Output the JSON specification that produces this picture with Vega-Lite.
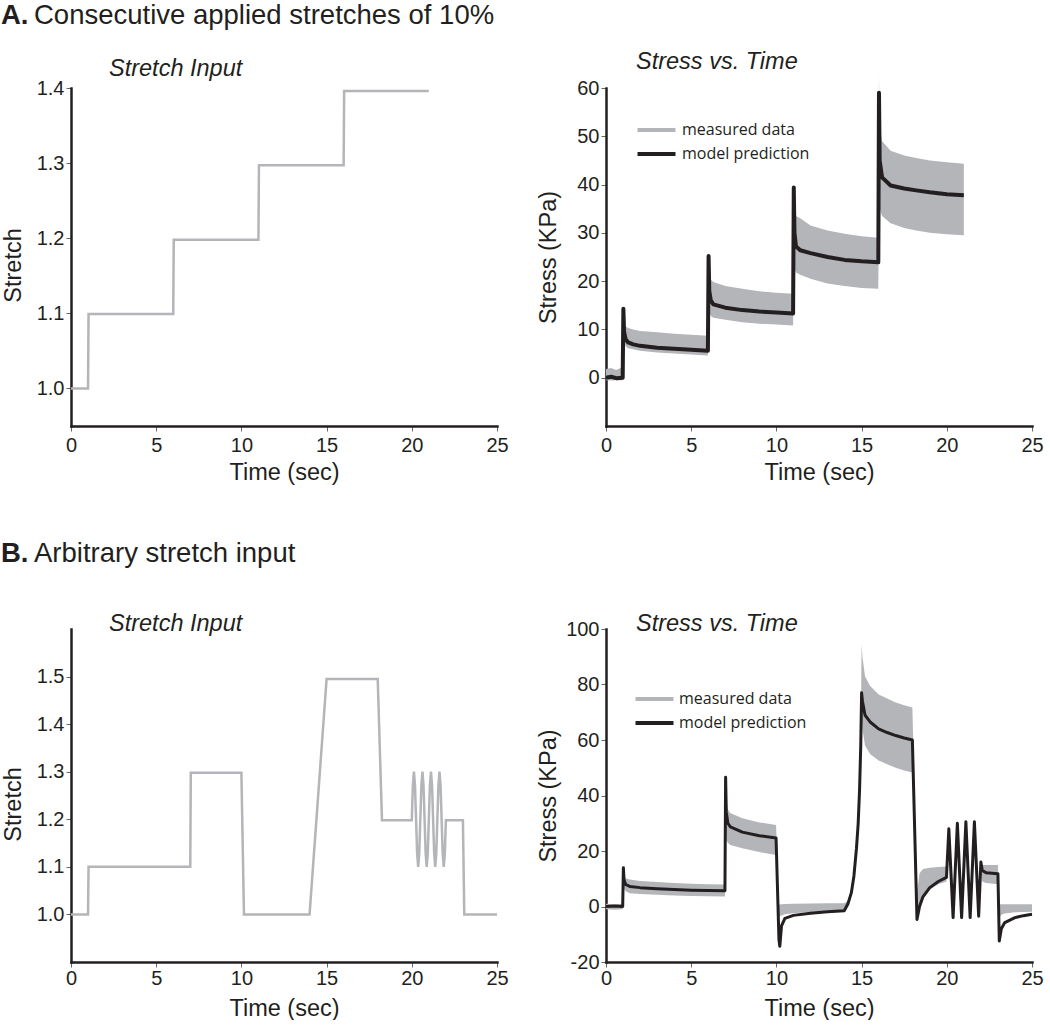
{
  "$schema": "https://vega.github.io/schema/vega-lite/v6.json",
  "background": "white",
  "padding": {"left": 1, "top": 1, "right": 0, "bottom": 0},
  "datasets": {
    "aStretch": [
      {"t": 0, "s": 1.0}, {"t": 1.0, "s": 1.0}, {"t": 1.03, "s": 1.099}, {"t": 6.0, "s": 1.099},
      {"t": 6.03, "s": 1.198}, {"t": 11.0, "s": 1.198}, {"t": 11.03, "s": 1.297}, {"t": 16.0, "s": 1.297},
      {"t": 16.03, "s": 1.396}, {"t": 21.0, "s": 1.396}
    ],
    "aStress": [
      {"t": 0.0, "lo": -0.5, "hi": 1.8, "m": 0},
      {"t": 0.3, "lo": -0.6, "hi": 2.0, "m": 0.2},
      {"t": 0.6, "lo": -0.5, "hi": 1.6, "m": -0.1},
      {"t": 0.98, "lo": -0.5, "hi": 2.2, "m": 0},
      {"t": 1.02, "lo": 9, "hi": 14.3, "m": 14.3},
      {"t": 1.06, "lo": 7.5, "hi": 11.5, "m": 9.5},
      {"t": 1.15, "lo": 6.5, "hi": 10.6, "m": 8.0},
      {"t": 1.3, "lo": 6.1, "hi": 10.3, "m": 7.3},
      {"t": 1.6, "lo": 5.9, "hi": 10.0, "m": 6.9},
      {"t": 2.0, "lo": 5.6, "hi": 9.7, "m": 6.6},
      {"t": 3.0, "lo": 5.2, "hi": 9.4, "m": 6.2},
      {"t": 4.0, "lo": 5.0, "hi": 9.1, "m": 6.0},
      {"t": 5.0, "lo": 4.8, "hi": 8.9, "m": 5.8},
      {"t": 5.98, "lo": 4.6, "hi": 8.7, "m": 5.6},
      {"t": 6.02, "lo": 15, "hi": 25.2, "m": 25.2},
      {"t": 6.06, "lo": 13.5, "hi": 21, "m": 18},
      {"t": 6.15, "lo": 12.8, "hi": 20.3, "m": 16},
      {"t": 6.3, "lo": 12.4, "hi": 19.8, "m": 15.2},
      {"t": 7.0, "lo": 12.0, "hi": 19.0, "m": 14.5},
      {"t": 8.0, "lo": 11.5, "hi": 18.4, "m": 14.0},
      {"t": 9.0, "lo": 11.2, "hi": 17.9, "m": 13.7},
      {"t": 10.0, "lo": 11.0, "hi": 17.6, "m": 13.5},
      {"t": 10.98, "lo": 10.8, "hi": 17.4, "m": 13.3},
      {"t": 11.02, "lo": 24, "hi": 40.5, "m": 39.4},
      {"t": 11.06, "lo": 22.5, "hi": 35, "m": 30},
      {"t": 11.15, "lo": 21.8, "hi": 33.5, "m": 27.2},
      {"t": 11.4, "lo": 21.3, "hi": 33, "m": 26.4},
      {"t": 12.0, "lo": 20.5, "hi": 31.5, "m": 25.8},
      {"t": 13.0, "lo": 19.5, "hi": 30.5, "m": 25.0},
      {"t": 14.0, "lo": 19.0, "hi": 29.8, "m": 24.4},
      {"t": 15.0, "lo": 18.6, "hi": 29.3, "m": 24.1},
      {"t": 15.98, "lo": 18.4, "hi": 29.0, "m": 23.9},
      {"t": 16.02, "lo": 37, "hi": 62.7, "m": 59},
      {"t": 16.06, "lo": 35, "hi": 52, "m": 45},
      {"t": 16.2, "lo": 33.5, "hi": 49, "m": 41.5},
      {"t": 16.7, "lo": 32, "hi": 47, "m": 39.8},
      {"t": 17.5, "lo": 31, "hi": 46, "m": 39.2},
      {"t": 18.2, "lo": 30.5, "hi": 45.5, "m": 38.8},
      {"t": 19.0, "lo": 30.0, "hi": 45, "m": 38.4},
      {"t": 20.0, "lo": 29.7, "hi": 44.6, "m": 38.0},
      {"t": 21.0, "lo": 29.5, "hi": 44.3, "m": 37.8}
    ],
    "bStretch": [
      {"t": 0, "s": 1.0}, {"t": 1.0, "s": 1.0}, {"t": 1.03, "s": 1.1}, {"t": 7.0, "s": 1.1},
      {"t": 7.03, "s": 1.298}, {"t": 10.0, "s": 1.298}, {"t": 10.15, "s": 1.0}, {"t": 14.0, "s": 1.0},
      {"t": 15.0, "s": 1.495}, {"t": 18.0, "s": 1.495}, {"t": 18.25, "s": 1.198}, {"t": 20.0, "s": 1.198},
      {"t": 20.0625, "s": 1.271}, {"t": 20.125, "s": 1.3}, {"t": 20.1875, "s": 1.271}, {"t": 20.25, "s": 1.2},
      {"t": 20.3125, "s": 1.129}, {"t": 20.375, "s": 1.1}, {"t": 20.4375, "s": 1.129}, {"t": 20.5, "s": 1.2},
      {"t": 20.5625, "s": 1.271}, {"t": 20.625, "s": 1.3}, {"t": 20.6875, "s": 1.271}, {"t": 20.75, "s": 1.2},
      {"t": 20.8125, "s": 1.129}, {"t": 20.875, "s": 1.1}, {"t": 20.9375, "s": 1.129}, {"t": 21.0, "s": 1.2},
      {"t": 21.0625, "s": 1.271}, {"t": 21.125, "s": 1.3}, {"t": 21.1875, "s": 1.271}, {"t": 21.25, "s": 1.2},
      {"t": 21.3125, "s": 1.129}, {"t": 21.375, "s": 1.1}, {"t": 21.4375, "s": 1.129}, {"t": 21.5, "s": 1.2},
      {"t": 21.5625, "s": 1.271}, {"t": 21.625, "s": 1.3}, {"t": 21.6875, "s": 1.271}, {"t": 21.75, "s": 1.2},
      {"t": 21.8125, "s": 1.129}, {"t": 21.875, "s": 1.1}, {"t": 21.9375, "s": 1.129}, {"t": 22.0, "s": 1.198},
      {"t": 23.0, "s": 1.198}, {"t": 23.08, "s": 1.0}, {"t": 25.0, "s": 1.0}
    ],
    "bStress": [
      {"t": 0.0, "lo": -1.0, "hi": 1.0, "m": 0},
      {"t": 0.5, "lo": -1.2, "hi": 0.8, "m": 0.2},
      {"t": 0.98, "lo": -1.0, "hi": 1.0, "m": 0},
      {"t": 1.02, "lo": 8, "hi": 14, "m": 14},
      {"t": 1.06, "lo": 6.5, "hi": 11, "m": 9.5},
      {"t": 1.15, "lo": 5.5, "hi": 10.2, "m": 8.0},
      {"t": 1.4, "lo": 4.8, "hi": 9.7, "m": 7.2},
      {"t": 2.0, "lo": 4.5, "hi": 9.2, "m": 6.8},
      {"t": 3.0, "lo": 4.2, "hi": 8.8, "m": 6.4},
      {"t": 4.0, "lo": 4.0, "hi": 8.5, "m": 6.1},
      {"t": 5.0, "lo": 3.8, "hi": 8.2, "m": 5.9},
      {"t": 6.0, "lo": 3.7, "hi": 8.0, "m": 5.8},
      {"t": 6.98, "lo": 3.6, "hi": 7.9, "m": 5.7},
      {"t": 7.02, "lo": 25, "hi": 46.6, "m": 46.6},
      {"t": 7.06, "lo": 24, "hi": 38, "m": 34},
      {"t": 7.15, "lo": 23, "hi": 35, "m": 30},
      {"t": 7.3, "lo": 22.2, "hi": 33.7, "m": 28.7},
      {"t": 8.0, "lo": 21, "hi": 31.8, "m": 26.8},
      {"t": 9.0, "lo": 19.6, "hi": 30.3, "m": 25.5},
      {"t": 9.98, "lo": 18.6, "hi": 29.4, "m": 24.7},
      {"t": 10.15, "lo": -3.5, "hi": 0.7, "m": -12},
      {"t": 10.2, "lo": -3.5, "hi": 0.7, "m": -14.3},
      {"t": 10.3, "lo": -3.2, "hi": 0.8, "m": -7},
      {"t": 10.5, "lo": -2.8, "hi": 0.9, "m": -4.3},
      {"t": 11.0, "lo": -2.4, "hi": 1.0, "m": -3.2},
      {"t": 12.0, "lo": -2.0, "hi": 1.1, "m": -2.4},
      {"t": 13.0, "lo": -1.8, "hi": 1.2, "m": -1.9},
      {"t": 13.98, "lo": -1.7, "hi": 1.2, "m": -1.5},
      {"t": 14.2, "lo": 0, "hi": 2, "m": 1},
      {"t": 14.4, "lo": 4, "hi": 6, "m": 5},
      {"t": 14.55, "lo": 10, "hi": 12, "m": 11},
      {"t": 14.7, "lo": 20, "hi": 22, "m": 21},
      {"t": 14.8, "lo": 29, "hi": 31, "m": 30},
      {"t": 14.88, "lo": 41, "hi": 43, "m": 42},
      {"t": 14.95, "lo": 57, "hi": 60, "m": 58},
      {"t": 15.0, "lo": 70, "hi": 94.6, "m": 77},
      {"t": 15.05, "lo": 64, "hi": 90, "m": 74},
      {"t": 15.2, "lo": 58, "hi": 83, "m": 69},
      {"t": 15.5, "lo": 55, "hi": 79.5, "m": 66.5},
      {"t": 16.0, "lo": 52.6, "hi": 76.4, "m": 64},
      {"t": 16.5, "lo": 51.3, "hi": 75, "m": 62.7},
      {"t": 17.0, "lo": 50, "hi": 73.5, "m": 61.6},
      {"t": 17.5, "lo": 49, "hi": 72.5, "m": 60.7},
      {"t": 17.98, "lo": 48.3, "hi": 71.7, "m": 60},
      {"t": 18.25, "lo": -4.7, "hi": 5, "m": -4.7},
      {"t": 18.4, "lo": 0, "hi": 12, "m": 0},
      {"t": 18.6, "lo": 3, "hi": 13.5, "m": 3.5},
      {"t": 19.0, "lo": 6, "hi": 14, "m": 6.8},
      {"t": 19.5, "lo": 8, "hi": 14.2, "m": 9.0},
      {"t": 19.98, "lo": 9, "hi": 14.4, "m": 10.5},
      {"t": 20.12, "lo": 28, "hi": 28, "m": 28},
      {"t": 20.37, "lo": -4, "hi": -4, "m": -4},
      {"t": 20.62, "lo": 30, "hi": 30, "m": 30},
      {"t": 20.87, "lo": -4, "hi": -4, "m": -4},
      {"t": 21.12, "lo": 30.5, "hi": 30.5, "m": 30.5},
      {"t": 21.37, "lo": -4, "hi": -4, "m": -4},
      {"t": 21.62, "lo": 30.5, "hi": 30.5, "m": 30.5},
      {"t": 21.87, "lo": -3.5, "hi": -3.5, "m": -3.5},
      {"t": 22.0, "lo": 13, "hi": 16, "m": 16},
      {"t": 22.08, "lo": 9, "hi": 15, "m": 13},
      {"t": 22.3, "lo": 8.5, "hi": 15, "m": 12.2},
      {"t": 23.0, "lo": 8, "hi": 15, "m": 11.8},
      {"t": 23.08, "lo": -4, "hi": 0.8, "m": -12.4},
      {"t": 23.2, "lo": -3, "hi": 0.8, "m": -8},
      {"t": 23.4, "lo": -2.5, "hi": 0.8, "m": -5.8},
      {"t": 24.0, "lo": -2.1, "hi": 0.8, "m": -4.0},
      {"t": 24.5, "lo": -2.0, "hi": 0.8, "m": -3.3},
      {"t": 25.0, "lo": -1.9, "hi": 0.8, "m": -2.8}
    ]
  },
  "spacing": 55,
  "resolve": {"scale": {"color": "independent"}},
  "vconcat": [
    {
      "title": {"text": "A.", "fontWeight": "bold", "fontSize": 27.5, "anchor": "start", "offset": -27.5},
      "resolve": {"scale": {"color": "independent"}},
      "vconcat": [
        {
          "title": {"text": "Consecutive applied stretches of 10%", "fontSize": 27.5, "anchor": "start", "dx": 33, "offset": 21},
          "spacing": 27,
          "resolve": {"scale": {"color": "independent"}},
          "hconcat": [
            {
              "width": 426, "height": 338,
              "title": {"text": "Stretch Input", "fontStyle": "italic", "fontSize": 23.5, "anchor": "start", "dx": 38, "frame": "group", "offset": -2},
              "data": {"name": "aStretch"},
              "mark": {"type": "line", "color": "#b4b5b8", "strokeWidth": 2.5},
              "encoding": {
                "x": {"field": "t", "type": "quantitative", "title": "Time (sec)", "scale": {"domain": [0, 25], "nice": false}, "axis": {"values": [0, 5, 10, 15, 20, 25]}},
                "y": {"field": "s", "type": "quantitative", "title": "Stretch", "scale": {"domain": [0.95, 1.4], "nice": false, "zero": false}, "axis": {"values": [1.0, 1.1, 1.2, 1.3, 1.4], "format": ".1f", "titleY": 177}}
              }
            },
            {
              "width": 426, "height": 338,
              "title": {"text": "Stress vs. Time", "fontStyle": "italic", "fontSize": 23.5, "anchor": "start", "dx": 30, "frame": "group", "offset": 1},
              "data": {"name": "aStress"},
              "layer": [
                {
                  "mark": {"type": "area", "opacity": 1},
                  "encoding": {
                    "x": {"field": "t", "type": "quantitative", "title": "Time (sec)", "scale": {"domain": [0, 25], "nice": false}, "axis": {"values": [0, 5, 10, 15, 20, 25]}},
                    "y": {"field": "lo", "type": "quantitative", "title": "Stress (KPa)", "scale": {"domain": [-10, 60], "nice": false, "zero": false}, "axis": {"values": [0, 10, 20, 30, 40, 50, 60], "labelExpr": "'' + datum.value"}},
                    "y2": {"field": "hi"},
                    "color": {
                      "datum": "measured data", "type": "nominal",
                      "scale": {"domain": ["measured data", "model prediction"], "range": ["#b4b5b8", "#231f20"]},
                      "legend": {
                        "orient": "none", "legendX": 39, "legendY": 30.5, "title": null,
                        "symbolType": "M-2,0H2", "symbolSize": 361, "symbolStrokeWidth": 4,
                        "labelFont": "Open Sans", "labelFontSize": 16, "labelColor": "#231f20", "labelOffset": 14,
                        "rowPadding": 4, "padding": 0,
                        "encode": {"symbols": {"update": {"stroke": [{"test": "datum.value === 'measured data'", "value": "#b4b5b8"}, {"value": "#231f20"}], "fill": {"value": "transparent"}, "strokeWidth": {"value": 4}}}}
                      }
                    }
                  }
                },
                {
                  "mark": {"type": "line", "strokeWidth": 4, "strokeJoin": "round"},
                  "encoding": {
                    "x": {"field": "t", "type": "quantitative"},
                    "y": {"field": "m", "type": "quantitative", "title": "Stress (KPa)"},
                    "color": {"datum": "model prediction", "type": "nominal"}
                  }
                }
              ]
            }
          ]
        }
      ]
    },
    {
      "title": {"text": "B.", "fontWeight": "bold", "fontSize": 27.5, "anchor": "start", "offset": -27.5},
      "resolve": {"scale": {"color": "independent"}},
      "vconcat": [
        {
          "title": {"text": "Arbitrary stretch input", "fontSize": 27.5, "anchor": "start", "dx": 33, "offset": 44.5},
          "spacing": 27,
          "resolve": {"scale": {"color": "independent"}},
          "hconcat": [
            {
              "width": 426, "height": 333,
              "title": {"text": "Stretch Input", "fontStyle": "italic", "fontSize": 23.5, "anchor": "start", "dx": 38, "frame": "group", "offset": -6},
              "data": {"name": "bStretch"},
              "mark": {"type": "line", "color": "#b4b5b8", "strokeWidth": 2.5},
              "encoding": {
                "x": {"field": "t", "type": "quantitative", "title": "Time (sec)", "scale": {"domain": [0, 25], "nice": false}, "axis": {"values": [0, 5, 10, 15, 20, 25], "labelPadding": 1, "titlePadding": 8}},
                "y": {"field": "s", "type": "quantitative", "title": "Stretch", "scale": {"domain": [0.9, 1.6], "nice": false, "zero": false}, "axis": {"values": [1.0, 1.1, 1.2, 1.3, 1.4, 1.5], "format": ".1f", "titleY": 175}}
              }
            },
            {
              "width": 426, "height": 333,
              "title": {"text": "Stress vs. Time", "fontStyle": "italic", "fontSize": 23.5, "anchor": "start", "dx": 30, "frame": "group", "offset": -16},
              "data": {"name": "bStress"},
              "layer": [
                {
                  "mark": {"type": "area", "opacity": 1},
                  "encoding": {
                    "x": {"field": "t", "type": "quantitative", "title": "Time (sec)", "scale": {"domain": [0, 25], "nice": false}, "axis": {"values": [0, 5, 10, 15, 20, 25], "labelPadding": 1, "titlePadding": 8}},
                    "y": {"field": "lo", "type": "quantitative", "title": "Stress (KPa)", "scale": {"domain": [-20, 100], "nice": false, "zero": false}, "axis": {"values": [-20, 0, 20, 40, 60, 80, 100], "labelExpr": "'' + datum.value"}},
                    "y2": {"field": "hi"},
                    "color": {
                      "datum": "measured data", "type": "nominal",
                      "scale": {"domain": ["measured data", "model prediction"], "range": ["#b4b5b8", "#231f20"]},
                      "legend": {
                        "orient": "none", "legendX": 37, "legendY": 58.5, "title": null,
                        "symbolType": "M-2,0H2", "symbolSize": 361, "symbolStrokeWidth": 4,
                        "labelFont": "Open Sans", "labelFontSize": 16, "labelColor": "#231f20", "labelOffset": 13,
                        "rowPadding": 4, "padding": 0,
                        "encode": {"symbols": {"update": {"stroke": [{"test": "datum.value === 'measured data'", "value": "#b4b5b8"}, {"value": "#231f20"}], "fill": {"value": "transparent"}, "strokeWidth": {"value": 4}}}}
                      }
                    }
                  }
                },
                {
                  "mark": {"type": "line", "strokeWidth": 3, "strokeJoin": "round"},
                  "encoding": {
                    "x": {"field": "t", "type": "quantitative"},
                    "y": {"field": "m", "type": "quantitative", "title": "Stress (KPa)"},
                    "color": {"datum": "model prediction", "type": "nominal"}
                  }
                }
              ]
            }
          ]
        }
      ]
    }
  ],
  "config": {
    "view": {"stroke": null},
    "font": "Liberation Sans",
    "title": {"font": "Liberation Sans", "color": "#231f20", "fontWeight": "normal"},
    "axis": {
      "domainColor": "#231f20", "domainWidth": 2.5, "domainCap": "square",
      "tickColor": "#666666", "tickWidth": 1, "tickSize": 5,
      "labelFont": "Liberation Sans", "labelFontSize": 20, "labelColor": "#231f20",
      "titleFont": "Liberation Sans", "titleFontSize": 23.5, "titleFontWeight": "normal", "titleColor": "#231f20",
      "grid": false, "labelFlush": false, "labelOverlap": false
    },
    "axisY": {"minExtent": 36, "maxExtent": 36, "titlePadding": 10, "labelPadding": 2},
    "axisX": {"labelPadding": 4, "titlePadding": 5}
  }
}
